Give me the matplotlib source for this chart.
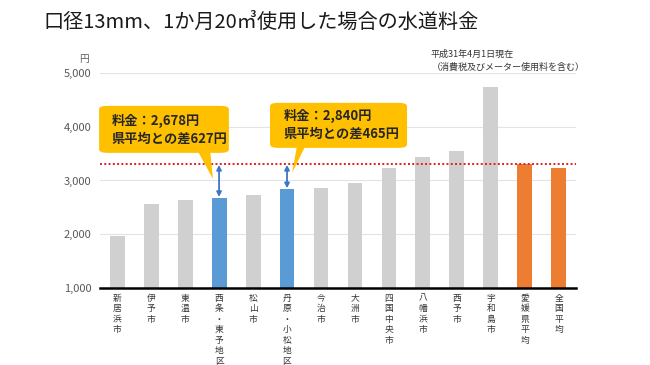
import numpy as np
import matplotlib.pyplot as plt
from matplotlib.patches import FancyBboxPatch, Polygon

plt.rcParams['font.family'] = ['Noto Sans CJK JP', 'DejaVu Sans']

cities = ["新居浜市", "伊予市", "東温市", "西条・東予地区", "松山市", "丹原・小松地区",
          "今治市", "大洲市", "四国中央市", "八幡浜市", "西予市", "宇和島市",
          "愛媛県平均", "全国平均"]
fees = [1973, 2564, 2639, 2678, 2733, 2840, 2857, 2961, 3229, 3428, 3558, 4737, 3305, 3230]
kinds = ["g", "g", "g", "b", "g", "b", "g", "g", "g", "g", "g", "g", "o", "o"]
pref_avg = 3305
yticks = [1000, 2000, 3000, 4000, 5000]

colors = {"g": "#D0D0D0", "b": "#5B9BD5", "o": "#ED7D31"}

fig = plt.figure(figsize=(6.5, 3.65), dpi=100)
ax = fig.add_axes([0.154, 0.211, 0.732, 0.589])

x = np.arange(len(cities))
ax.bar(x, [f - 1000 for f in fees], bottom=1000, width=0.44,
       color=[colors[k] for k in kinds], zorder=3)

ax.set_xlim(-0.5, len(cities) - 0.5)
ax.set_ylim(1000, 5000)
ax.set_yticks(yticks)
ax.set_yticklabels([f"{v:,}" for v in yticks], color="#595959", fontsize=8)
ax.grid(axis="y", color="#E3E3E3", linewidth=0.8, zorder=0)
ax.tick_params(axis="y", length=0, pad=6)
ax.tick_params(axis="x", length=0, pad=4)
for s in ["top", "right", "left"]:
    ax.spines[s].set_visible(False)
ax.spines["bottom"].set_linewidth(1.8)
ax.spines["bottom"].set_zorder(4)

ax.set_xticks(x)
ax.set_xticklabels(["\n".join(c) for c in cities], fontsize=6.3, color="#333333",
                   va="top", linespacing=1.22)

# prefecture average line
ax.axhline(pref_avg, color="#E02020", linestyle=(0, (1, 1.2)), linewidth=1.4, zorder=4)

# difference arrows
for i in [3, 5]:
    ax.annotate("", xy=(x[i], fees[i] + 15), xytext=(x[i], pref_avg - 15),
                arrowprops=dict(arrowstyle="<|-|>", color="#3F76C4", lw=1.3,
                                mutation_scale=7, shrinkA=0, shrinkB=0), zorder=5)

# callouts
callouts = [
    ((-0.53, 3514, 3.82, 875), [(2.38, 3540), (2.74, 3540), (2.82, 3030)],
     "料金：2,678円\n県平均との差627円", (-0.15, 3950)),
    ((4.5, 3607, 4.03, 838), [(5.29, 3630), (5.53, 3630), (5.15, 3140)],
     "料金：2,840円\n県平均との差465円", (4.91, 4030)),
]
for (bx, by, bw, bh), tri, txt, (tx, ty) in callouts:
    box = FancyBboxPatch((bx, by), bw, bh, boxstyle="round,pad=0,rounding_size=0.25",
                         mutation_aspect=250, facecolor="#FFC000", edgecolor="none",
                         clip_on=False, zorder=6)
    ax.add_patch(box)
    ax.add_patch(Polygon(tri, closed=True, facecolor="#FFC000", edgecolor="none",
                         clip_on=False, zorder=6))
    ax.text(tx, ty, txt, fontsize=9.5, fontweight="bold", color="#262626",
            va="center", ha="left", linespacing=1.35, zorder=7)

fig.text(0.402, 0.94, "口径13mm、1か月20㎥使用した場合の水道料金", ha="center", va="center",
         fontsize=14.5, color="#1a1a1a")
fig.text(0.13, 0.838, "円", fontsize=7, color="#595959", ha="center", va="center")
fig.text(0.662, 0.85, "平成31年4月1日現在", fontsize=6.5, color="#333333", va="center")
fig.text(0.665, 0.815, "（消費税及びメーター使用料を含む）", fontsize=6.5, color="#333333",
         va="center")

fig.savefig("out.png", dpi=100)
